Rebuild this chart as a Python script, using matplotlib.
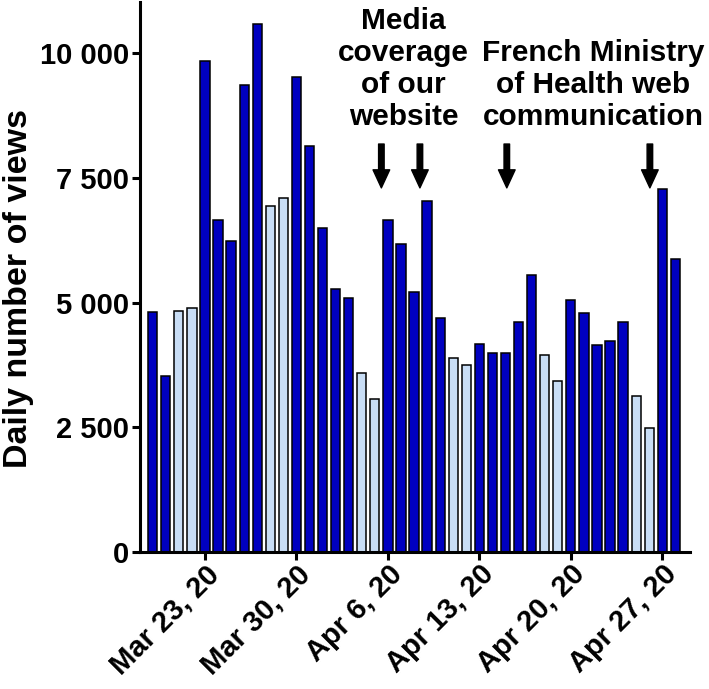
import matplotlib.pyplot as plt
import numpy as np

plt.rcParams['font.family'] = ['Liberation Sans', 'DejaVu Sans']
plt.rcParams['font.weight'] = 'bold'

# daily views, Mar 19 .. Apr 28 2020
views = [4815, 3525, 4830, 4883, 9852, 6655, 6234, 9370, 10582, 6942,
         7097, 9531, 8140, 6488, 5277, 5084, 3579, 3064, 6661, 6168,
         5217, 7037, 4683, 3880, 3740, 4161, 3993, 3980, 4615, 5546,
         3947, 3431, 5050, 4783, 4140, 4225, 4615, 3124, 2476, 7277,
         5867]
weekend = [0, 0, 1, 1, 0, 0, 0, 0, 0, 1,
           1, 0, 0, 0, 0, 0, 1, 1, 0, 0,
           0, 0, 0, 1, 1, 0, 0, 0, 0, 0,
           1, 1, 0, 0, 0, 0, 0, 1, 1, 0,
           0]
tick_idx = [4, 11, 18, 25, 32, 39]
tick_labels = ['Mar 23, 20', 'Mar 30, 20', 'Apr 6, 20', 'Apr 13, 20',
               'Apr 20, 20', 'Apr 27, 20']
y_ticks = [0, 2500, 5000, 7500, 10000]
y_labels = ['0', '2 500', '5 000', '7 500', '10 000']
arrow_x = [17.5, 20.45, 27.1, 38.05]

dark = '#0000c0'
light = '#c8ddf5'

fig = plt.figure(figsize=(7.09, 6.89), dpi=100)
ax = fig.add_axes([0.1975, 0.1993, 0.7757, 0.7978])

x = np.arange(len(views))
colors = [light if w else dark for w in weekend]
ax.bar(x, views, width=0.71, color=colors, edgecolor='black', linewidth=1.1)

ax.set_xlim(-0.97, len(views) - 1 + 1.12)
ax.set_ylim(0, 11030)

ax.spines['top'].set_visible(False)
ax.spines['right'].set_visible(False)
ax.spines['left'].set_linewidth(2.2)
ax.spines['bottom'].set_linewidth(2.2)

ax.set_yticks(y_ticks)
ax.set_yticklabels(y_labels, fontsize=21, fontweight='bold')
ax.set_xticks(tick_idx)
ax.set_xticklabels(tick_labels, fontsize=21, fontweight='bold', rotation=45,
                   ha='right', rotation_mode='anchor')
ax.tick_params(axis='both', width=2.2, length=6, pad=2)
ax.tick_params(axis='x', pad=0)
ax.set_ylabel('Daily number of views', fontsize=24.5, fontweight='bold')
ax.yaxis.set_label_coords(-0.192, 0.478)

for ax_x in arrow_x:
    ax.annotate('', xy=(ax_x, 7300), xytext=(ax_x, 8180),
                arrowprops=dict(facecolor='black', edgecolor='black', width=4,
                                headwidth=12, headlength=13, shrink=0))

ax.text(19.2, 8450, 'Media\ncoverage\nof our\nwebsite', ha='center', va='bottom',
        fontsize=21.5, fontweight='bold', linespacing=1.17)
ax.text(33.7, 8450, 'French Ministry\nof Health web\ncommunication', ha='center',
        va='bottom', fontsize=21.5, fontweight='bold', linespacing=1.17)

fig.savefig('out.png', dpi=100)
